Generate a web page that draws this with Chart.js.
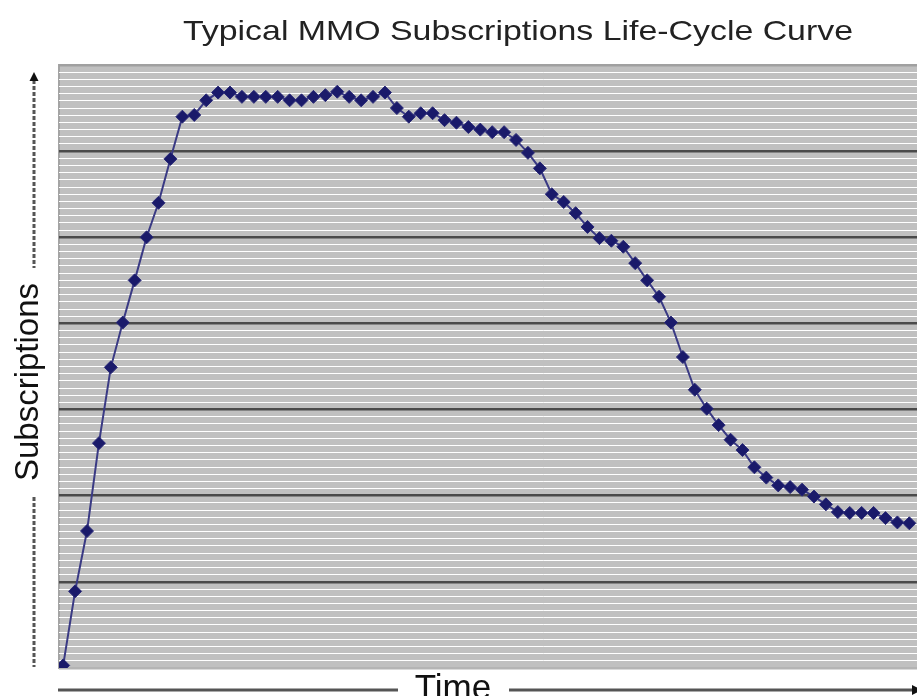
<!DOCTYPE html>
<html>
<head>
<meta charset="utf-8">
<title>Typical MMO Subscriptions Life-Cycle Curve</title>
<script src="https://cdn.jsdelivr.net/npm/chart.js@4.4.1/dist/chart.umd.min.js"></script>
<style>
  html, body { margin: 0; padding: 0; background: #fff; overflow: hidden; }
  #wrap { width: 1036px; height: 696px; }
</style>
</head>
<body>
<div id="wrap">
  <canvas id="myChart" width="1036" height="696"></canvas>
</div>
<script>
// chart texts
var chartTitle = 'Typical MMO Subscriptions Life-Cycle Curve';
var yAxisLabel = 'Subscriptions';
var xAxisLabel = 'Time';

// subscriptions per time period (arbitrary units 0..7)
var subscriptions = [
  0.03, 0.89, 1.59, 2.61, 3.49, 4.01, 4.50, 5.00, 5.40, 5.91,
  6.40, 6.42, 6.59, 6.68, 6.68, 6.63, 6.63, 6.63, 6.63, 6.59,
  6.59, 6.63, 6.65, 6.69, 6.63, 6.59, 6.63, 6.68, 6.50, 6.40,
  6.44, 6.44, 6.36, 6.33, 6.28, 6.25, 6.22, 6.22, 6.13, 5.98,
  5.80, 5.50, 5.41, 5.28, 5.12, 4.99, 4.96, 4.89, 4.70, 4.50,
  4.31, 4.01, 3.61, 3.23, 3.01, 2.82, 2.65, 2.53, 2.33, 2.21,
  2.12, 2.10, 2.07, 1.99, 1.90, 1.81, 1.80, 1.80, 1.80, 1.74,
  1.69, 1.68
];
// time periods (no labels shown on the axis)
var periods = subscriptions.map(function (v, i) { return i; });

var yMax = 7;
var minorPerUnit = 12;

var points = [];
for (var i = 0; i < subscriptions.length; i++) {
  points.push({ x: periods[i], y: subscriptions[i] });
}

var plotBackground = {
  id: 'plotBackground',
  beforeDraw: function (chart) {
    var a = chart.chartArea;
    var ctx = chart.ctx;
    ctx.save();
    ctx.fillStyle = 'white';
    ctx.fillRect(0, 0, chart.width, chart.height);
    ctx.fillStyle = '#c0c0c0';
    ctx.fillRect(a.left, a.top, a.right - a.left, a.bottom - a.top);
    ctx.fillStyle = '#a4a4a4';
    ctx.fillRect(a.left - 1, a.top - 1, 2, a.bottom - a.top + 2);
    ctx.restore();
  }
};

var decorations = {
  id: 'decorations',
  afterDraw: function (chart) {
    var ctx = chart.ctx;
    var a = chart.chartArea;
    ctx.save();

    // title, a bit stretched sideways like the original
    ctx.font = '28px "Liberation Sans", Arial, sans-serif';
    ctx.fillStyle = '#222';
    ctx.textAlign = 'center';
    ctx.textBaseline = 'alphabetic';
    var w = ctx.measureText(chartTitle).width;
    ctx.save();
    ctx.translate(518, 40);
    ctx.scale(670 / w, 1);
    ctx.fillText(chartTitle, 0, 0);
    ctx.restore();

    // y axis: dashed arrow + label
    ctx.strokeStyle = '#555';
    ctx.lineWidth = 3;
    ctx.setLineDash([4, 2]);
    ctx.beginPath();
    ctx.moveTo(34, 80);
    ctx.lineTo(34, 268);
    ctx.moveTo(34, 497);
    ctx.lineTo(34, a.bottom - 1);
    ctx.stroke();
    ctx.setLineDash([]);
    ctx.fillStyle = '#111';
    ctx.beginPath();
    ctx.moveTo(34, 72);
    ctx.lineTo(38.5, 81);
    ctx.lineTo(29.5, 81);
    ctx.closePath();
    ctx.fill();

    ctx.save();
    ctx.translate(38, 382);
    ctx.rotate(-Math.PI / 2);
    ctx.font = '33px "Liberation Sans", Arial, sans-serif';
    ctx.fillStyle = '#111';
    ctx.fillText(yAxisLabel, 0, 0);
    ctx.restore();

    // x axis: line + arrow + label
    ctx.strokeStyle = '#555';
    ctx.lineWidth = 3;
    ctx.beginPath();
    ctx.moveTo(58, 690);
    ctx.lineTo(398, 690);
    ctx.moveTo(509, 690);
    ctx.lineTo(914, 690);
    ctx.stroke();
    ctx.fillStyle = '#111';
    ctx.beginPath();
    ctx.moveTo(922, 690);
    ctx.lineTo(912, 685);
    ctx.lineTo(912, 695);
    ctx.closePath();
    ctx.fill();

    ctx.font = '35px "Liberation Sans", Arial, sans-serif';
    ctx.fillStyle = '#111';
    ctx.fillText(xAxisLabel, 453, 699);

    ctx.restore();
  }
};

var ctx = document.getElementById('myChart').getContext('2d');
var myChart = new Chart(ctx, {
  type: 'line',
  data: {
    datasets: [{
      label: yAxisLabel,
      data: points,
      borderColor: '#3a3a84',
      borderWidth: 2,
      backgroundColor: '#1a1a6a',
      pointStyle: 'rectRot',
      pointRadius: 6.5,
      pointBorderWidth: 1,
      pointBorderColor: '#2a2a78',
      pointBackgroundColor: '#1a1a6a',
      tension: 0,
      fill: false
    }]
  },
  options: {
    responsive: false,
    animation: false,
    devicePixelRatio: 1,
    layout: { padding: { left: 59, top: 65, right: 0, bottom: 28 } },
    plugins: {
      legend: { display: false },
      tooltip: { enabled: false },
      title: { display: false }
    },
    scales: {
      x: {
        type: 'linear',
        min: -0.35,
        max: 81,
        grid: { display: false, drawTicks: false },
        border: { display: false },
        ticks: { display: false }
      },
      y: {
        min: 0,
        max: yMax,
        afterBuildTicks: function (scale) {
          var t = [];
          for (var k = 0; k <= yMax * minorPerUnit; k++) {
            t.push({ value: k / minorPerUnit });
          }
          scale.ticks = t;
        },
        grid: {
          drawTicks: false,
          color: function (c) {
            var n = yMax * minorPerUnit;
            if (c.index === n) return '#a0a0a0';
            if (c.index === 0) return '#b4b4b4';
            if (c.index % minorPerUnit === 0) return '#4a4a4a';
            return '#ffffff';
          },
          lineWidth: function (c) {
            if (c.index % minorPerUnit === 0) return 2.5;
            return 1;
          }
        },
        border: { display: false },
        ticks: { display: false }
      }
    }
  },
  plugins: [plotBackground, decorations]
});
</script>
</body>
</html>
